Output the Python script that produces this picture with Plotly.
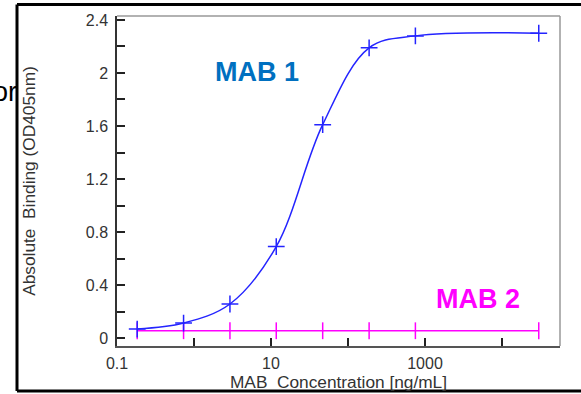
import plotly.graph_objects as go

# Data
conc = [0.183, 0.732, 2.93, 11.7, 46.9, 188, 750, 30000]
mab1 = [0.068, 0.113, 0.257, 0.69, 1.61, 2.19, 2.28, 2.30]
mab2 = [0.055, 0.055, 0.055, 0.055, 0.055, 0.055, 0.055, 0.055]

x_tickvals = [0.1, 1, 10, 100, 1000, 10000]
x_ticktext = ["0.1", "", "10", "", "1000", ""]
y_tickvals = [0, 0.2, 0.4, 0.6, 0.8, 1.0, 1.2, 1.4, 1.6, 1.8, 2.0, 2.2, 2.4]
y_ticktext = ["0", "", "0.4", "", "0.8", "", "1.2", "", "1.6", "", "2", "", "2.4"]

FONT = "Liberation Sans, Arial, sans-serif"

fig = go.Figure()
fig.add_trace(go.Scatter(
    x=conc, y=mab2, mode="lines+markers", name="MAB 2",
    line=dict(color="#ff00ff", width=1.5),
    marker=dict(symbol="line-ns-open", size=12, color="#ff00ff",
                line=dict(color="#ff00ff", width=1.5)),
    showlegend=False, cliponaxis=False))
fig.add_trace(go.Scatter(
    x=conc, y=mab1, mode="lines+markers", name="MAB 1",
    line=dict(color="#2424ff", width=1.5, shape="spline", smoothing=1.0),
    marker=dict(symbol="cross-thin-open", size=12, color="#2424ff",
                line=dict(color="#2424ff", width=1.5)),
    showlegend=False, cliponaxis=False))

L, R, T, B = 117, 21, 16, 48
W, H = 581, 394
pw, ph = W - L - R, H - T - B

def px(xp):
    return (xp - L) / pw

def py(yp):
    return (H - B - yp) / ph

fig.update_layout(
    width=W, height=H,
    margin=dict(l=L, r=R, t=T, b=B, pad=0, autoexpand=False),
    paper_bgcolor="white", plot_bgcolor="white",
    font=dict(family=FONT, size=16, color="#333333"),
    showlegend=False,
    xaxis=dict(
        type="log", range=[-1, 4.753], automargin=False,
        tickvals=x_tickvals, ticktext=x_ticktext,
        ticks="inside", ticklen=8, tickcolor="#222222", tickwidth=1.5,
        showgrid=False, zeroline=False,
        showline=True, linecolor="#555555", linewidth=1.5, mirror=False,
        tickfont=dict(size=16, color="#333333"),
        ticklabelstandoff=2,
        title=dict(text="MAB  Concentration [ng/mL]", font=dict(size=17.3, color="#333333"), standoff=0),
    ),
    yaxis=dict(
        range=[-0.06, 2.43], automargin=False,
        tickvals=y_tickvals, ticktext=y_ticktext,
        ticks="inside", ticklen=8, tickcolor="#222222", tickwidth=1.5,
        showgrid=False, zeroline=False,
        showline=True, linecolor="#333333", linewidth=1.5,
        tickfont=dict(size=16, color="#333333"),
        ticklabelstandoff=4,
        title=dict(text="Absolute  Binding (OD405nm)", font=dict(size=17.3, color="#333333"), standoff=46),
    ),
    shapes=[
        # top and right border of plot area (gray)
        dict(type="line", xref="paper", yref="paper", x0=0, x1=1, y0=1, y1=1,
             line=dict(color="#999999", width=1.5)),
        dict(type="line", xref="paper", yref="paper", x0=1, x1=1, y0=0, y1=1,
             line=dict(color="#999999", width=1.5)),
        # outer black frame (right side beyond the picture)
        dict(type="line", xref="paper", yref="paper",
             x0=px(17), x1=px(620), y0=py(4.5), y1=py(4.5),
             line=dict(color="black", width=3), layer="above"),
        dict(type="line", xref="paper", yref="paper",
             x0=px(17), x1=px(620), y0=py(391), y1=py(391),
             line=dict(color="black", width=3), layer="above"),
        dict(type="line", xref="paper", yref="paper",
             x0=px(17), x1=px(17), y0=py(391), y1=py(4.5),
             line=dict(color="black", width=3), layer="above"),
    ],
    annotations=[
        dict(text="<b>MAB 1</b>", x=px(257), y=py(72), xref="paper", yref="paper",
             showarrow=False, font=dict(family=FONT, size=27, color="#0070c0"),
             xanchor="center", yanchor="middle"),
        dict(text="<b>MAB 2</b>", x=px(478), y=py(299), xref="paper", yref="paper",
             showarrow=False, font=dict(family=FONT, size=27, color="#ff00ff"),
             xanchor="center", yanchor="middle"),
        dict(text="or", x=px(19), y=py(92), xref="paper", yref="paper",
             showarrow=False, font=dict(family=FONT, size=27, color="#000000"),
             xanchor="right", yanchor="middle"),
    ],
)

fig.write_html("out.html", config={"displayModeBar": False},
               post_script="document.body.style.margin='0';")
